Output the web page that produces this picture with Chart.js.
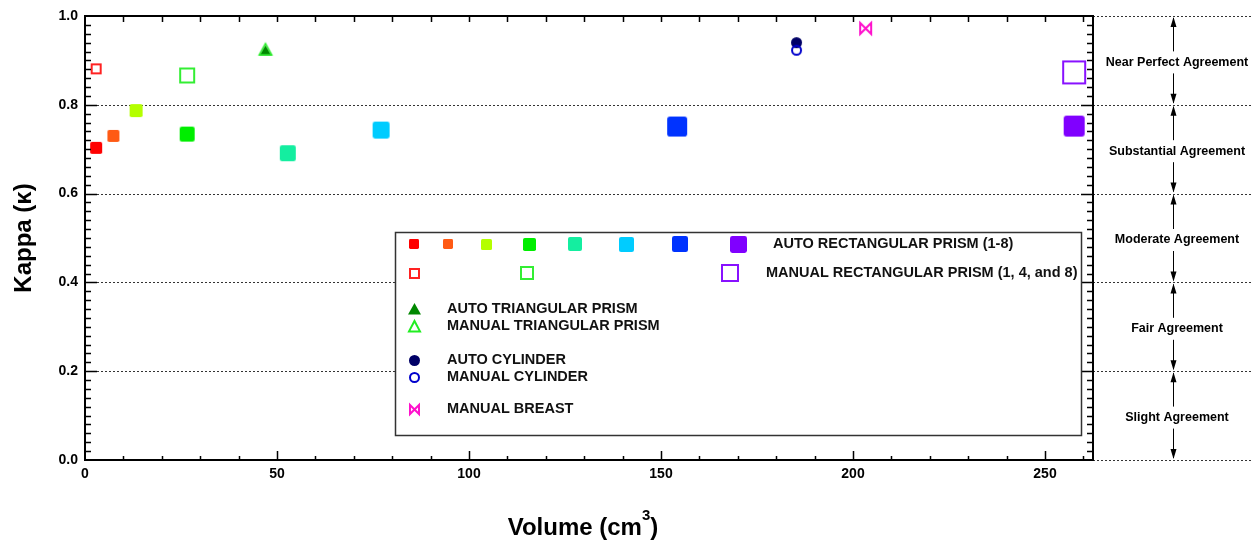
<!DOCTYPE html>
<html>
<head>
<meta charset="utf-8">
<script src="https://cdn.jsdelivr.net/npm/chart.js@4/dist/chart.umd.min.js"></script>
<style>
body { margin: 0; background: #fff; }
canvas { display: block; }
</style>
</head>
<body>
<canvas id="chart_Kappa" width="1252" height="544"></canvas>
<script>
// values (volume in cm3, kappa)
var autoRectVolume = [2.9, 7.4, 13.3, 26.6, 52.8, 77.1, 154.2, 257.6];
var autoRectKappa = [0.703, 0.730, 0.787, 0.734, 0.691, 0.743, 0.751, 0.752];
var manualRectVolume = [2.9, 26.6, 257.6];
var manualRectKappa = [0.881, 0.866, 0.873];
var autoTriVolume = [47.0];
var autoTriKappa = [0.922];
var manualTriVolume = [47.0];
var manualTriKappa = [0.924];
var autoCylVolume = [185.3];
var autoCylKappa = [0.940];
var manualCylVolume = [185.3];
var manualCylKappa = [0.923];
var manualBreastVolume = [203.3];
var manualBreastKappa = [0.972];

var xTicks = [0, 50, 100, 150, 200, 250];
var yTicks = [0, 0.2, 0.4, 0.6, 0.8, 1.0];
var agreementLabels = ["Slight Agreement", "Fair Agreement", "Moderate Agreement", "Substantial Agreement", "Near Perfect Agreement"];

// marker styles
var rectColors = ["#ff0000", "#ff5a14", "#b4ff00", "#00ee00", "#14eea0", "#00ccff", "#0033ff", "#8000ff"];
var rectSizes = [12, 12, 13, 15, 16, 17, 20, 21];
var manualRectColors = ["#ff2222", "#33ee33", "#8811ff"];
var manualRectSizes = [11, 16, 24];

var FONT = "'Liberation Sans', Arial, sans-serif";
Chart.defaults.font.family = FONT;
Chart.defaults.color = "#000";

function marker(shape, size, fill, stroke, lw) {
    lw = lw || 0;
    var c = document.createElement("canvas");
    c.width = c.height = Math.ceil(size + 4);
    var g = c.getContext("2d");
    var m = c.width / 2, h = size / 2;
    g.lineWidth = lw;
    g.beginPath();
    if (shape == "square") {
        g.roundRect(m - h, m - h, size, size, size * 0.14);
    } else if (shape == "box") {
        g.rect(m - h + lw / 2, m - h + lw / 2, size - lw, size - lw);
    } else if (shape == "tri") {
        g.moveTo(m, m - h + lw / 2);
        g.lineTo(m + h - lw / 2, m + h * 0.75);
        g.lineTo(m - h + lw / 2, m + h * 0.75);
        g.closePath();
    } else if (shape == "circle") {
        g.arc(m, m, h - lw / 2, 0, Math.PI * 2);
    } else if (shape == "bowtie") {
        g.moveTo(m - h + 1, m - h + 1);
        g.lineTo(m + h - 1, m + h - 1);
        g.lineTo(m + h - 1, m - h + 1);
        g.lineTo(m - h + 1, m + h - 1);
        g.closePath();
    }
    if (fill) { g.fillStyle = fill; g.fill(); }
    if (lw) { g.strokeStyle = stroke; g.stroke(); }
    return c;
}

function pts(xs, ys) {
    return xs.map(function (x, i) { return { x: x, y: ys[i] }; });
}

var autoRectStyles = rectColors.map(function (col, i) { return marker("square", rectSizes[i], col); });
var manualRectStyles = manualRectColors.map(function (col, i) { return marker("box", manualRectSizes[i], null, col, 2); });

// frame, inner ticks and dotted grid lines
var framePlugin = {
    id: "frame",
    beforeDatasetsDraw: function (chart) {
        var ctx = chart.ctx, a = chart.chartArea, y = chart.scales.y;
        ctx.save();
        ctx.strokeStyle = "#333";
        ctx.lineWidth = 1;
        ctx.setLineDash([2, 2]);
        yTicks.forEach(function (v) {
            var py = Math.round(y.getPixelForValue(v)) + 0.5;
            ctx.beginPath();
            ctx.moveTo((v == 0 || v == 1) ? a.right : a.left, py);
            ctx.lineTo(chart.width, py);
            ctx.stroke();
        });
        ctx.restore();
    },
    afterDatasetsDraw: function (chart) {
        var ctx = chart.ctx, a = chart.chartArea, x = chart.scales.x, y = chart.scales.y;
        ctx.save();
        ctx.strokeStyle = "#000";
        ctx.lineWidth = 1.5;
        ctx.beginPath();
        for (var v = 10; v < 262; v += 10) {
            var px = Math.round(x.getPixelForValue(v)) + 0.5;
            var big = v % 50 == 0;
            ctx.moveTo(px, a.bottom); ctx.lineTo(px, a.bottom - (big ? 9 : 4));
            ctx.moveTo(px, a.top); ctx.lineTo(px, a.top + 6);
        }
        for (var k = 1; k < 50; k++) {
            var py = Math.round(y.getPixelForValue(k * 0.02)) + 0.5;
            var len = k % 10 == 0 ? 12 : 6;
            ctx.moveTo(a.left, py); ctx.lineTo(a.left + len, py);
            ctx.moveTo(a.right, py); ctx.lineTo(a.right - len, py);
        }
        ctx.stroke();
        ctx.lineWidth = 2;
        ctx.strokeRect(a.left, a.top, a.right - a.left, a.bottom - a.top);

        // x axis title with superscript
        ctx.fillStyle = "#000";
        ctx.textBaseline = "alphabetic";
        ctx.font = "bold 24px " + FONT;
        var w1 = ctx.measureText("Volume (cm").width;
        var w3 = ctx.measureText(")").width;
        ctx.font = "bold 15px " + FONT;
        var w2 = ctx.measureText("3").width;
        var sx = 583 - (w1 + w2 + w3) / 2;
        ctx.font = "bold 24px " + FONT;
        ctx.fillText("Volume (cm", sx, 535);
        ctx.fillText(")", sx + w1 + w2, 535);
        ctx.font = "bold 15px " + FONT;
        ctx.fillText("3", sx + w1, 520);
        ctx.restore();
    }
};

// agreement bands on the right
var bandPlugin = {
    id: "bands",
    afterDraw: function (chart) {
        var ctx = chart.ctx, y = chart.scales.y;
        var ax = 1173, cx = 1177;
        ctx.save();
        ctx.fillStyle = "#000";
        ctx.strokeStyle = "#000";
        ctx.lineWidth = 1;
        ctx.font = "bold 12.5px " + FONT;
        ctx.textAlign = "center";
        ctx.textBaseline = "middle";
        agreementLabels.forEach(function (lab, i) {
            var bot = y.getPixelForValue(yTicks[i]);
            var top = y.getPixelForValue(yTicks[i + 1]);
            var ty = (top + bot) / 2 + 2;
            ctx.fillText(lab, cx, ty);
            ctx.beginPath();
            ctx.moveTo(ax + 0.5, top + 2); ctx.lineTo(ax + 0.5, ty - 11);
            ctx.moveTo(ax + 0.5, ty + 11); ctx.lineTo(ax + 0.5, bot - 2);
            ctx.stroke();
            ctx.beginPath();
            ctx.moveTo(ax + 0.5, top + 1); ctx.lineTo(ax + 3.5, top + 11); ctx.lineTo(ax - 2.5, top + 11); ctx.closePath();
            ctx.moveTo(ax + 0.5, bot - 1); ctx.lineTo(ax + 3.5, bot - 11); ctx.lineTo(ax - 2.5, bot - 11); ctx.closePath();
            ctx.fill();
        });
        ctx.restore();
    }
};

// boxed legend inside the plot
var legendPlugin = {
    id: "boxLegend",
    afterDatasetsDraw: function (chart) {
        var ctx = chart.ctx;
        ctx.save();
        ctx.fillStyle = "#fff";
        ctx.fillRect(395.5, 232.5, 686, 203);
        ctx.strokeStyle = "#333";
        ctx.lineWidth = 1.5;
        ctx.strokeRect(395.5, 232.5, 686, 203);
        function put(c, x, y) { ctx.drawImage(c, Math.round(x - c.width / 2), Math.round(y - c.height / 2)); }
        var r1x = [414, 448, 486, 529, 575, 626, 680, 738], r1s = [10, 10, 11, 13, 14, 15, 16, 17];
        r1x.forEach(function (x, i) { put(marker("square", r1s[i], rectColors[i]), x, 244); });
        var r2x = [414, 527, 730], r2s = [11, 14, 18];
        r2x.forEach(function (x, i) { put(marker("box", r2s[i], null, manualRectColors[i], 2), x, 273); });
        put(marker("tri", 13, "#008800"), 414, 309);
        put(marker("tri", 13, null, "#22ee22", 2), 414, 326);
        put(marker("circle", 11, "#000066"), 414, 360);
        put(marker("circle", 11, null, "#0000cc", 2), 414, 377);
        put(marker("bowtie", 11, null, "#ff11cc", 2), 414, 409);
        ctx.fillStyle = "#111";
        ctx.font = "bold 14.5px " + FONT;
        ctx.textBaseline = "middle";
        ctx.fillText("AUTO RECTANGULAR PRISM (1-8)", 773, 244);
        ctx.fillText("MANUAL RECTANGULAR PRISM (1, 4, and 8)", 766, 273);
        ctx.fillText("AUTO TRIANGULAR PRISM", 447, 309);
        ctx.fillText("MANUAL TRIANGULAR PRISM", 447, 326);
        ctx.fillText("AUTO CYLINDER", 447, 360);
        ctx.fillText("MANUAL CYLINDER", 447, 377);
        ctx.fillText("MANUAL BREAST", 447, 409);
        ctx.restore();
    }
};

new Chart(document.getElementById("chart_Kappa"), {
    type: "scatter",
    data: {
        datasets: [{
            label: "MANUAL BREAST",
            data: pts(manualBreastVolume, manualBreastKappa),
            pointStyle: marker("bowtie", 13, null, "#ff11cc", 2)
        }, {
            label: "MANUAL CYLINDER",
            data: pts(manualCylVolume, manualCylKappa),
            pointStyle: marker("circle", 11, null, "#0000cc", 2)
        }, {
            label: "AUTO CYLINDER",
            data: pts(autoCylVolume, autoCylKappa),
            pointStyle: marker("circle", 11, "#000066")
        }, {
            label: "MANUAL TRIANGULAR PRISM",
            data: pts(manualTriVolume, manualTriKappa),
            pointStyle: marker("tri", 14, null, "#22ee22", 1.5)
        }, {
            label: "AUTO TRIANGULAR PRISM",
            data: pts(autoTriVolume, autoTriKappa),
            pointStyle: marker("tri", 12, "#008800")
        }, {
            label: "MANUAL RECTANGULAR PRISM (1, 4, and 8)",
            data: pts(manualRectVolume, manualRectKappa),
            pointStyle: manualRectStyles
        }, {
            label: "AUTO RECTANGULAR PRISM (1-8)",
            data: pts(autoRectVolume, autoRectKappa),
            pointStyle: autoRectStyles
        }]
    },
    options: {
        responsive: false,
        animation: false,
        devicePixelRatio: 1,
        clip: false,
        layout: { padding: { top: 16, right: 159, left: 0, bottom: 0 } },
        plugins: { legend: { display: false }, tooltip: { enabled: false } },
        scales: {
            x: {
                type: "linear",
                min: 0,
                max: 262.5,
                grid: { display: false, drawTicks: false },
                border: { display: false },
                ticks: { font: { size: 14, weight: "bold" }, padding: 6, maxRotation: 0 },
                afterBuildTicks: function (s) { s.ticks = xTicks.map(function (v) { return { value: v }; }); },
                afterFit: function (s) { s.height = 84; }
            },
            y: {
                min: 0,
                max: 1,
                grid: { display: false, drawTicks: false },
                border: { display: false },
                ticks: {
                    font: { size: 14, weight: "bold" },
                    padding: 7,
                    callback: function (v) { return v.toFixed(1); }
                },
                afterBuildTicks: function (s) { s.ticks = yTicks.map(function (v) { return { value: v }; }); },
                afterFit: function (s) { s.width = 85; },
                title: {
                    display: true,
                    text: "Kappa (\u03ba)",
                    font: { size: 24, weight: "bold" },
                    padding: { top: 10, bottom: 0 }
                }
            }
        }
    },
    plugins: [framePlugin, bandPlugin, legendPlugin]
});
</script>
</body>
</html>
